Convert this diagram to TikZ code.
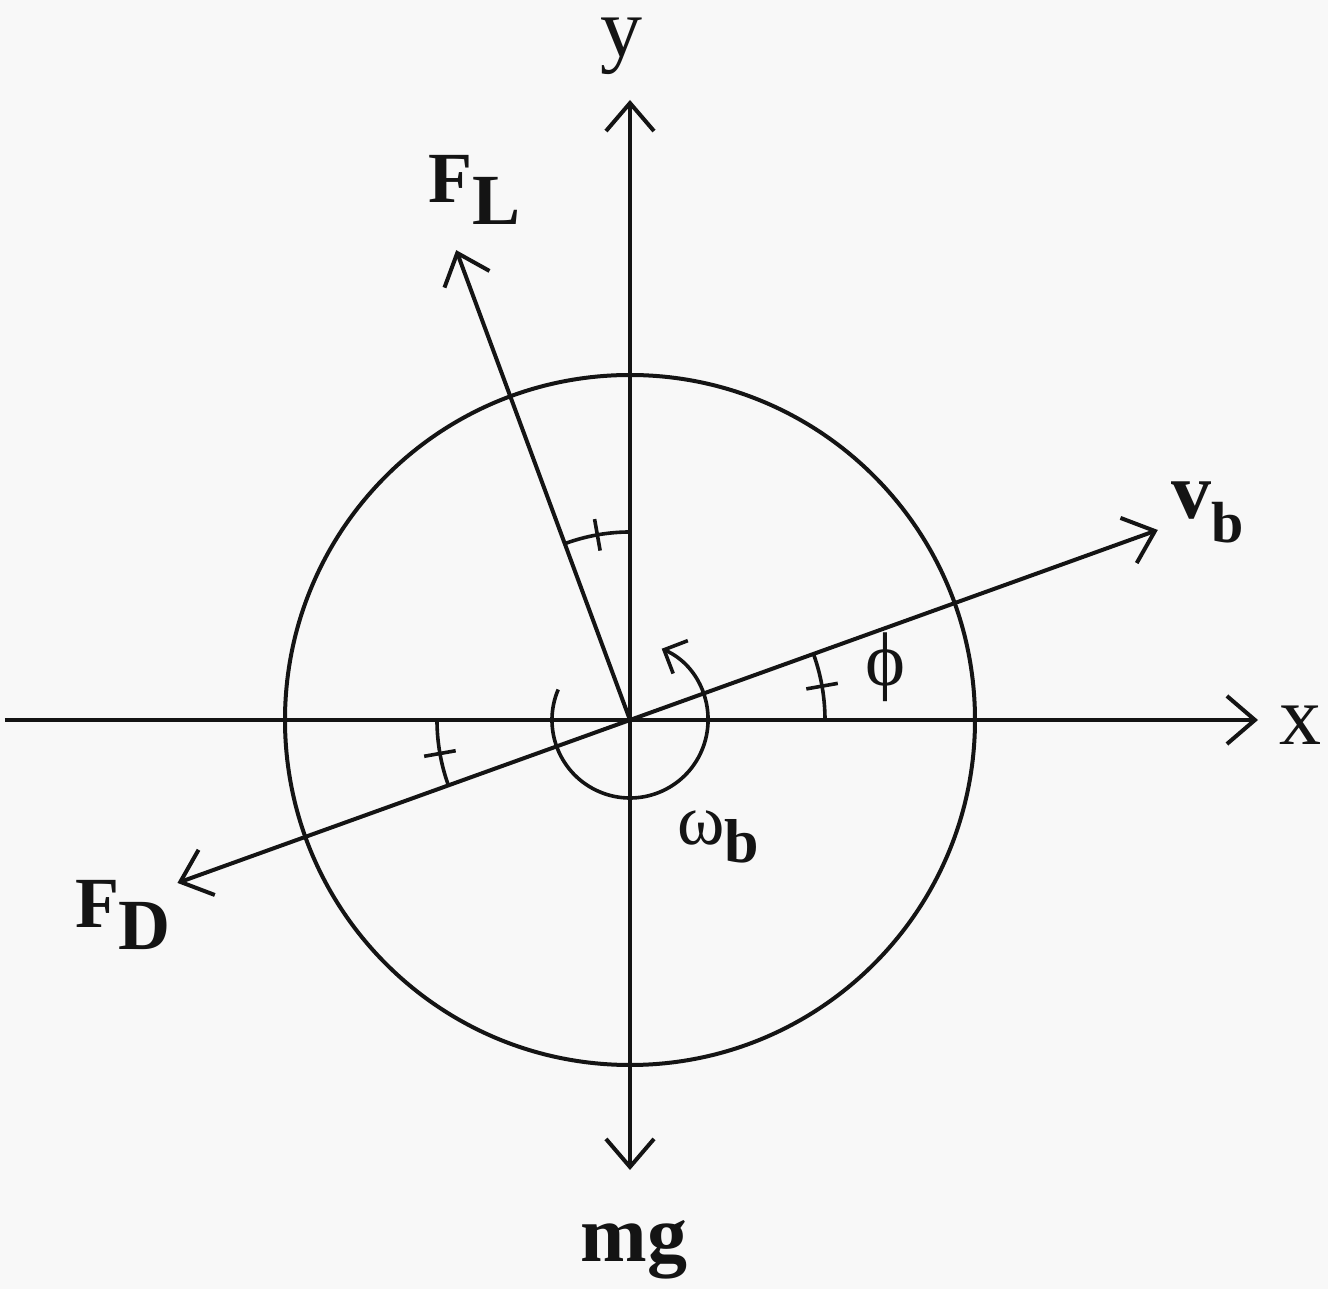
\documentclass[tikz,border=0pt]{standalone}
\usepackage{fontspec}
\setmainfont{Liberation Serif}
\usetikzlibrary{arrows.meta,positioning,calc}
\definecolor{ink}{HTML}{141414}
\definecolor{paper}{HTML}{F8F8F8}

\tikzset{
  vec/.style={draw=ink,line width=2pt,
              -{Straight Barb[length=14pt,width=24pt,line width=2pt]}},
  anglemark/.style={draw=ink,line width=1.8pt},
  lab/.style={text=ink,inner sep=0pt,font=\fontsize{40}{44}\selectfont}
}

\begin{document}
\begin{tikzpicture}[x=0.5pt,y=0.5pt]
  % page frame
  \fill[paper] (-630,-569) rectangle (698,720);
  \useasboundingbox (-630,-569) rectangle (698,720);

  \coordinate (O) at (0,0);
  \coordinate (xstart) at (-625,0);
  \coordinate (xtip) at (628,0);
  \coordinate (ytip) at (0,620);
  \coordinate (mgtip) at (0,-450);
  \coordinate (vbtip) at (19.8:561);
  \coordinate (fdtip) at (199.8:481);
  \coordinate (fltip) at (110.3:501);

  % ball
  \draw[ink,line width=2pt] (O) circle[radius=345];

  % axes and forces
  \draw[vec] (xstart) -- (xtip);
  \draw[vec] (O) -- (ytip);
  \draw[vec] (O) -- (mgtip);
  \draw[vec] (O) -- (vbtip);
  \draw[vec] (O) -- (fdtip);
  \draw[vec] (O) -- (fltip);

  % angles
  \draw[anglemark] (O) ++(0:195) arc[start angle=0,end angle=19.8,radius=195];
  \draw[anglemark] (O) ++(10:179) -- ++(10:32);
  \draw[anglemark] (O) ++(180:193) arc[start angle=180,end angle=199.8,radius=193];
  \draw[anglemark] (O) ++(190:177) -- ++(190:32);
  \draw[anglemark] (O) ++(90:188) arc[start angle=90,end angle=110.3,radius=188];
  \draw[anglemark] (O) ++(100:172) -- ++(100:32);

  % spin
  \draw[ink,line width=1.8pt,-{Straight Barb[length=9pt,width=18pt,line width=1.8pt]}]
    (O) ++(157:78) arc[start angle=157,end angle=426,radius=78];

  % labels
  \node[lab,font=\fontsize{42}{44}\selectfont] (xlab) at (670,-5) {x};
  \node[lab,font=\fontsize{42}{44}\selectfont] (ylab) at (-8,674) {y};
  \node[lab,font=\fontsize{40}{44}\selectfont\bfseries] (mglab) at (4,-530) {mg};
  \node[lab,font=\fontsize{36}{40}\selectfont\bfseries] (fllab) at (-155,530)
    {F\raisebox{-0.3em}{L}};
  \node[lab,font=\fontsize{36}{40}\selectfont\bfseries] (fdlab) at (-507,-195)
    {F\raisebox{-0.3em}{D}};
  \node[lab,font=\fontsize{40}{44}\selectfont\bfseries] (vblab) at (578,208)
    {v\raisebox{-12pt}{\fontsize{29}{30}\selectfont b}};
  \node[lab,font=\fontsize{38}{40}\selectfont] (philab) at (255,53) {ϕ};
  \node[lab,font=\fontsize{36}{38}\selectfont] (omlab) at (88,-117)
    {ω\raisebox{-9pt}{\fontsize{31}{34}\selectfont\bfseries b}};
\end{tikzpicture}
\end{document}
